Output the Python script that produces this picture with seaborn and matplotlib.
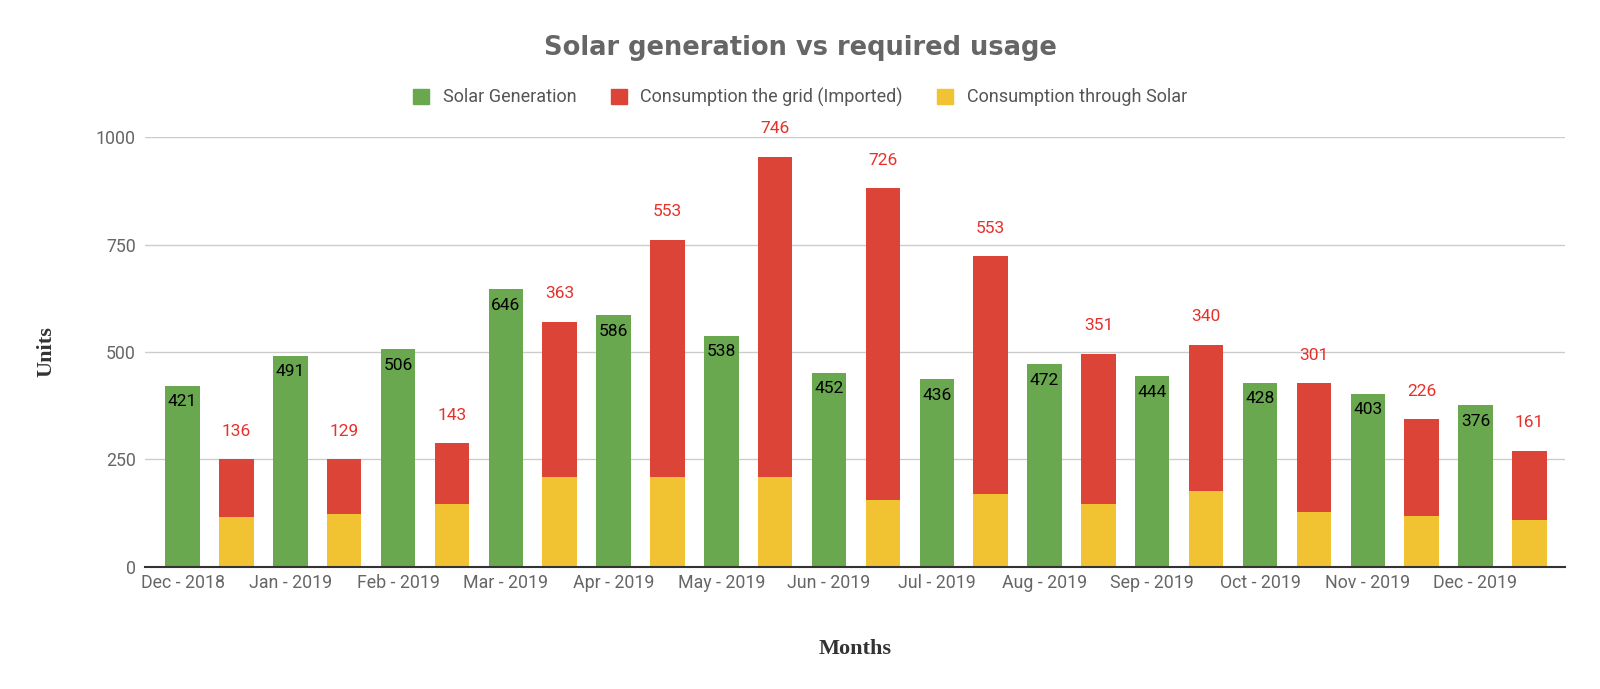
import matplotlib
matplotlib.use("Agg")
import matplotlib.pyplot as plt
from matplotlib.patches import Patch
import seaborn as sns
import pandas as pd

# données
months = ["Dec - 2018", "Jan - 2019", "Feb - 2019", "Mar - 2019", "Apr - 2019",
          "May - 2019", "Jun - 2019", "Jul - 2019", "Aug - 2019", "Sep - 2019",
          "Oct - 2019", "Nov - 2019", "Dec - 2019"]
solar_generation = [421, 491, 506, 646, 586, 538, 452, 436, 472, 444, 428, 403, 376]
grid_imported = [136, 129, 143, 363, 553, 746, 726, 553, 351, 340, 301, 226, 161]
through_solar = [115, 122, 145, 208, 209, 209, 155, 170, 145, 177, 127, 117, 109]

green = "#6aa84f"
red = "#dc4437"
yellow = "#f1c232"
grey = "#666666"

sns.set_style("white")
plt.rcParams['font.family'] = ['Roboto', 'DejaVu Sans']

# 26 emplacements : une barre verte puis une barre empilée par mois
slots = []
for m in months:
    slots += [m, m + " use"]

gen_df = pd.DataFrame({"slot": months, "value": solar_generation})
use_df = pd.DataFrame({"slot": [m + " use" for m in months],
                       "total": [a + b for a, b in zip(grid_imported, through_solar)],
                       "solar": through_solar})

fig = plt.figure(figsize=(16, 6.89), dpi=100)
ax = fig.add_axes([0.0909, 0.1775, 0.8875, 0.6232])

sns.barplot(data=gen_df, x="slot", y="value", order=slots, color=green,
            saturation=1, width=0.64, linewidth=0, ax=ax)
sns.barplot(data=use_df, x="slot", y="total", order=slots, color=red,
            saturation=1, width=0.64, linewidth=0, ax=ax)
sns.barplot(data=use_df, x="slot", y="solar", order=slots, color=yellow,
            saturation=1, width=0.64, linewidth=0, ax=ax)

# étiquettes de valeurs
for i, v in enumerate(solar_generation):
    ax.annotate(str(v), (2 * i, v), xytext=(0, -11.5), textcoords="offset points",
                ha="center", va="center", fontsize=12.5, color="black")
for i, (imp, sol) in enumerate(zip(grid_imported, through_solar)):
    ax.annotate(str(imp), (2 * i + 1, imp + sol), xytext=(0, 20),
                textcoords="offset points", ha="center", va="center",
                fontsize=12.5, color="#e8302a", annotation_clip=False)

ax.set_xlim(-0.69, 25.67)
ax.set_ylim(0, 1000)
ax.set_yticks([0, 250, 500, 750, 1000])
ax.set_xticks(range(0, 26, 2))
ax.set_xticklabels(months)
ax.tick_params(axis="both", length=0, labelsize=12.8, labelcolor=grey)
ax.tick_params(axis="y", pad=7)
ax.tick_params(axis="x", pad=5)
ax.yaxis.grid(True, color="#cccccc", linewidth=1)
ax.set_axisbelow(True)
for s in ["left", "right", "top"]:
    ax.spines[s].set_visible(False)
ax.spines["bottom"].set_color("#333333")
ax.spines["bottom"].set_linewidth(1.5)

ax.set_xlabel("Months", family="Liberation Serif", fontsize=16, fontweight="bold",
              color="#333333", labelpad=34)
ax.set_ylabel("Units", family="Liberation Serif", fontsize=16, fontweight="bold",
              color="#333333", labelpad=28)

fig.text(0.5, 0.930, "Solar generation vs required usage", ha="center", va="center",
         family="DejaVu Sans", fontsize=18.5, fontweight="bold", color=grey)

handles = [Patch(color=green, label="Solar Generation"),
           Patch(color=red, label="Consumption the grid (Imported)"),
           Patch(color=yellow, label="Consumption through Solar")]
leg = fig.legend(handles=handles, loc="center", bbox_to_anchor=(0.5, 0.859), ncol=3,
                 frameon=False, fontsize=13, handlelength=0.9, handleheight=0.9,
                 handletextpad=0.75, columnspacing=1.9)
for t in leg.get_texts():
    t.set_color("#555555")

fig.savefig("out.png", dpi=100)
